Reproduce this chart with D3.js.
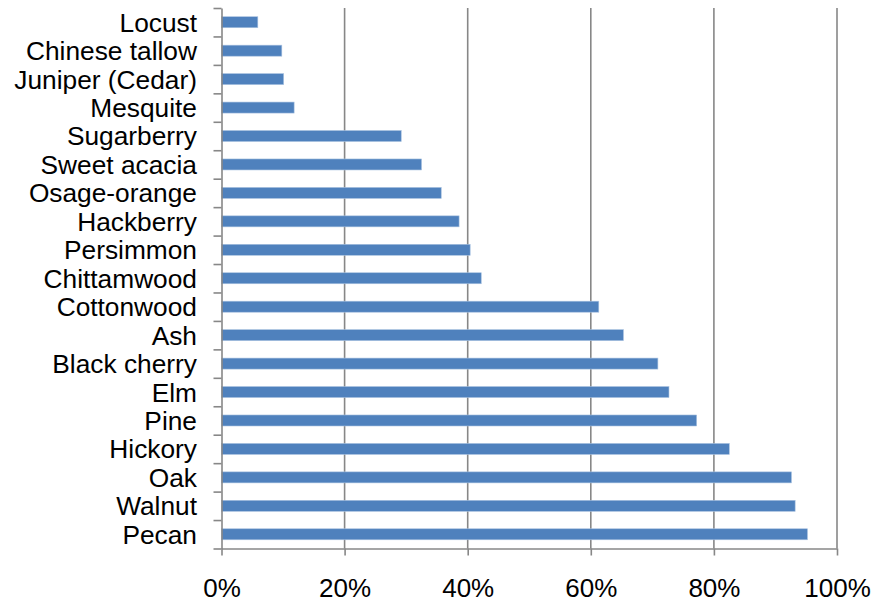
<!DOCTYPE html>
<html>
<head>
<meta charset="utf-8">
<script src="https://cdn.jsdelivr.net/npm/d3@7"></script>
<style>
  html, body { margin: 0; padding: 0; background: #fff; }
  svg { display: block; }
  text { font-family: "Liberation Sans", Arial, sans-serif; fill: #000; }
</style>
</head>
<body>
<svg id="chart" width="873" height="604"></svg>
<script>
const categories = ["Locust", "Chinese tallow", "Juniper (Cedar)", "Mesquite", "Sugarberry",
  "Sweet acacia", "Osage-orange", "Hackberry", "Persimmon", "Chittamwood", "Cottonwood",
  "Ash", "Black cherry", "Elm", "Pine", "Hickory", "Oak", "Walnut", "Pecan"];
const values = [0.059, 0.098, 0.101, 0.118, 0.292, 0.325, 0.357, 0.386, 0.404, 0.422,
  0.613, 0.653, 0.709, 0.727, 0.772, 0.825, 0.926, 0.932, 0.952];
const xTicks = [0, 0.2, 0.4, 0.6, 0.8, 1.0];
const xTickLabels = ["0%", "20%", "40%", "60%", "80%", "100%"];

const svg = d3.select("#chart");
const mLeft = 221.5, mRight = 837, mTop = 8, mBottom = 548.5;
const gridColor = "#878787";

const x = d3.scaleLinear().domain([0, 1]).range([mLeft, mRight]);
const y = d3.scaleBand().domain(categories).range([mTop, mBottom])
  .paddingInner(0.613).paddingOuter(0.3065);
const yIdx = d3.scaleLinear().domain([0, categories.length]).range([mTop, mBottom]);

// gridlines
svg.append("g").selectAll("line").data(xTicks.slice(1)).join("line")
  .attr("x1", d => x(d)).attr("x2", d => x(d))
  .attr("y1", mTop).attr("y2", mBottom)
  .attr("stroke", gridColor).attr("stroke-width", 1.6);

// bars
svg.append("g").selectAll("rect").data(categories).join("rect")
  .attr("x", x(0))
  .attr("y", d => y(d))
  .attr("width", (d, i) => x(values[i]) - x(0))
  .attr("height", y.bandwidth())
  .attr("fill", "#4F81BD")
  .attr("stroke", "#a9c2e0").attr("stroke-width", 0.6);

// y axis (ticks at category boundaries)
const yAxis = svg.append("g").attr("transform", `translate(${mLeft},0)`)
  .call(d3.axisLeft(yIdx).tickValues(d3.range(categories.length + 1)).tickFormat("").tickSize(8).tickSizeOuter(0));
yAxis.selectAll("path, line").attr("stroke", gridColor).attr("stroke-width", 1.6);

// y labels
svg.append("g").selectAll("text").data(categories).join("text")
  .attr("x", 197)
  .attr("y", d => y(d) + y.bandwidth() / 2)
  .attr("dy", "0.36em")
  .attr("text-anchor", "end")
  .attr("font-size", "26.3px")
  .text(d => d);

// x axis
const xAxis = svg.append("g").attr("transform", `translate(0,${mBottom})`)
  .call(d3.axisBottom(x).tickValues(xTicks).tickFormat((d, i) => xTickLabels[i]).tickSize(7).tickSizeOuter(0).tickPadding(30));
xAxis.selectAll("path, line").attr("stroke", gridColor).attr("stroke-width", 1.6);
xAxis.selectAll("text").attr("font-size", "26px").attr("dy", "0").attr("y", 48.5)
  .style("font-family", "'Liberation Sans', Arial, sans-serif").attr("fill", "#000");
</script>
</body>
</html>
